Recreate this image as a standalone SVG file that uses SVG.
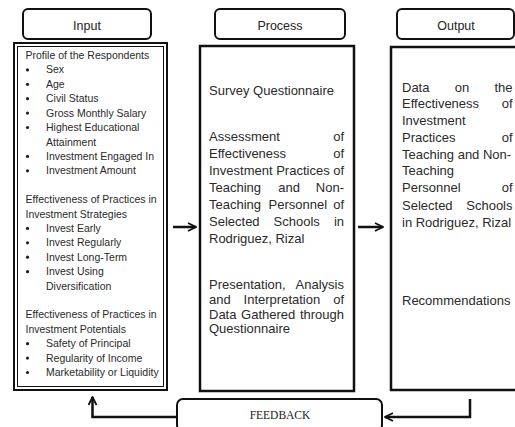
<svg xmlns="http://www.w3.org/2000/svg" width="515" height="427" viewBox="0 0 515 427">
  <style>
    .hdr { fill: #fff; stroke: #111; stroke-width: 2; }
    .hdr-t { font-family: "Liberation Sans", Arial, sans-serif; font-size: 12.5px; fill: #222; text-anchor: middle; }
    .body { fill: #fff; stroke: #111; stroke-width: 2.5; }
    .s { font-family: "Liberation Sans", Arial, sans-serif; font-size: 10.5px; fill: #2a2a2a; }
    .m { font-family: "Liberation Sans", Arial, sans-serif; font-size: 13px; fill: #2a2a2a; }
    .e { text-anchor: end; }
    .dot { fill: #222; }
    .conn { fill: none; stroke: #111; stroke-width: 2.5; }
    .fb-t { font-family: "Liberation Serif", "Times New Roman", serif; font-size: 11.5px; fill: #222; text-anchor: middle; }
  </style>
  <defs>
    <marker id="head" viewBox="0 0 10 10" refX="9" refY="5" markerWidth="4" markerHeight="4" orient="auto" markerUnits="strokeWidth">
      <path d="M1,1 L9,5 L1,9" fill="none" stroke="#111" stroke-width="1.8"/>
    </marker>
  </defs>
  <rect width="515" height="427" fill="#fff"/>

  <!-- Input column -->
  <g id="input">
    <rect class="hdr" x="23" y="9" width="128" height="30" rx="5"/>
    <text class="hdr-t" x="87" y="30">Input</text>
    <rect x="14" y="43" width="153" height="347" fill="#fff" stroke="#111" stroke-width="2"/>
    <rect x="17.5" y="46.5" width="146" height="340" fill="none" stroke="#111" stroke-width="1"/>
    <g class="s">
      <text x="25.5" y="59">Profile of the Respondents</text>
      <text x="46" y="73.4">Sex</text>
      <text x="46" y="87.8">Age</text>
      <text x="46" y="102.2">Civil Status</text>
      <text x="46" y="116.6">Gross Monthly Salary</text>
      <text x="46" y="131">Highest Educational</text>
      <text x="46" y="145.5">Attainment</text>
      <text x="46" y="159.9">Investment Engaged In</text>
      <text x="46" y="174.3">Investment Amount</text>
      <text x="25.5" y="203.1">Effectiveness of Practices in</text>
      <text x="25.5" y="217.5">Investment Strategies</text>
      <text x="46" y="231.9">Invest Early</text>
      <text x="46" y="246.3">Invest Regularly</text>
      <text x="46" y="260.7">Invest Long-Term</text>
      <text x="46" y="275.2">Invest Using</text>
      <text x="46" y="289.6">Diversification</text>
      <text x="25.5" y="318.4">Effectiveness of Practices in</text>
      <text x="25.5" y="332.8">Investment Potentials</text>
      <text x="46" y="347.2">Safety of Principal</text>
      <text x="46" y="361.6">Regularity of Income</text>
      <text x="46" y="376">Marketability or Liquidity</text>
    </g>
    <g class="dot">
      <circle cx="27.5" cy="69.9" r="1.6"/>
      <circle cx="27.5" cy="84.3" r="1.6"/>
      <circle cx="27.5" cy="98.7" r="1.6"/>
      <circle cx="27.5" cy="113.1" r="1.6"/>
      <circle cx="27.5" cy="127.5" r="1.6"/>
      <circle cx="27.5" cy="156.4" r="1.6"/>
      <circle cx="27.5" cy="170.8" r="1.6"/>
      <circle cx="27.5" cy="228.4" r="1.6"/>
      <circle cx="27.5" cy="242.8" r="1.6"/>
      <circle cx="27.5" cy="257.2" r="1.6"/>
      <circle cx="27.5" cy="271.7" r="1.6"/>
      <circle cx="27.5" cy="343.7" r="1.6"/>
      <circle cx="27.5" cy="358.1" r="1.6"/>
      <circle cx="27.5" cy="372.5" r="1.6"/>
    </g>
  </g>

  <!-- Process column -->
  <g id="process">
    <rect class="hdr" x="215" y="9" width="130" height="30" rx="5"/>
    <text class="hdr-t" x="280" y="30">Process</text>
    <rect class="body" x="200" y="46" width="154" height="345"/>
    <g class="m">
      <text x="209" y="95">Survey Questionnaire</text>
      <text x="209" y="141">Assessment</text><text class="e" x="344" y="141">of</text>
      <text x="209" y="158">Effectiveness</text><text class="e" x="344" y="158">of</text>
      <text x="209" y="175">Investment Practices</text><text class="e" x="344" y="175">of</text>
      <text x="209" y="192">Teaching</text><text x="278.3" y="192">and</text><text class="e" x="344" y="192">Non-</text>
      <text x="209" y="208.5">Teaching</text><text x="268.6" y="208.5">Personnel</text><text class="e" x="344" y="208.5">of</text>
      <text x="209" y="225.5">Selected</text><text x="273.6" y="225.5">Schools</text><text class="e" x="344" y="225.5">in</text>
      <text x="209" y="243">Rodriguez, Rizal</text>
      <text x="209" y="288.5">Presentation,</text><text class="e" x="344" y="288.5">Analysis</text>
      <text x="209" y="303.5">and</text><text x="243.6" y="303.5">Interpretation</text><text class="e" x="344" y="303.5">of</text>
      <text x="209" y="318.5">Data</text><text x="241.1" y="318.5">Gathered</text><text class="e" x="344" y="318.5">through</text>
      <text x="209" y="333">Questionnaire</text>
    </g>
  </g>

  <!-- Output column -->
  <g id="output">
    <rect class="hdr" x="397" y="9" width="117" height="30" rx="5"/>
    <text class="hdr-t" x="456" y="30">Output</text>
    <rect class="body" x="391" y="47" width="140" height="343"/>
    <g class="m">
      <text x="402" y="91.5">Data</text><text x="454.7" y="91.5">on</text><text class="e" x="512.5" y="91.5">the</text>
      <text x="402" y="108.3">Effectiveness</text><text class="e" x="512.5" y="108.3">of</text>
      <text x="402" y="125">Investment</text>
      <text x="402" y="141.8">Practices</text><text class="e" x="512.5" y="141.8">of</text>
      <text x="402" y="158.6">Teaching and Non-</text>
      <text x="402" y="175.4">Teaching</text>
      <text x="402" y="192.2">Personnel</text><text class="e" x="512.5" y="192.2">of</text>
      <text x="402" y="209.5">Selected</text><text class="e" x="512.5" y="209.5">Schools</text>
      <text x="402" y="226.5">in Rodriguez, Rizal</text>
      <text x="402" y="305">Recommendations</text>
    </g>
  </g>

  <!-- Feedback -->
  <g id="feedback">
    <rect class="hdr" x="177" y="399" width="205" height="32" rx="6"/>
    <text class="fb-t" x="280" y="418.5">FEEDBACK</text>
  </g>

  <!-- Connectors -->
  <g id="connectors">
    <path class="conn" d="M173,227 H196" marker-end="url(#head)"/>
    <path class="conn" d="M358,227 H383" marker-end="url(#head)"/>
    <path class="conn" d="M470,399 V417 H385" marker-end="url(#head)"/>
    <path class="conn" d="M177,417 H92.5 V397" marker-end="url(#head)"/>
  </g>
</svg>
